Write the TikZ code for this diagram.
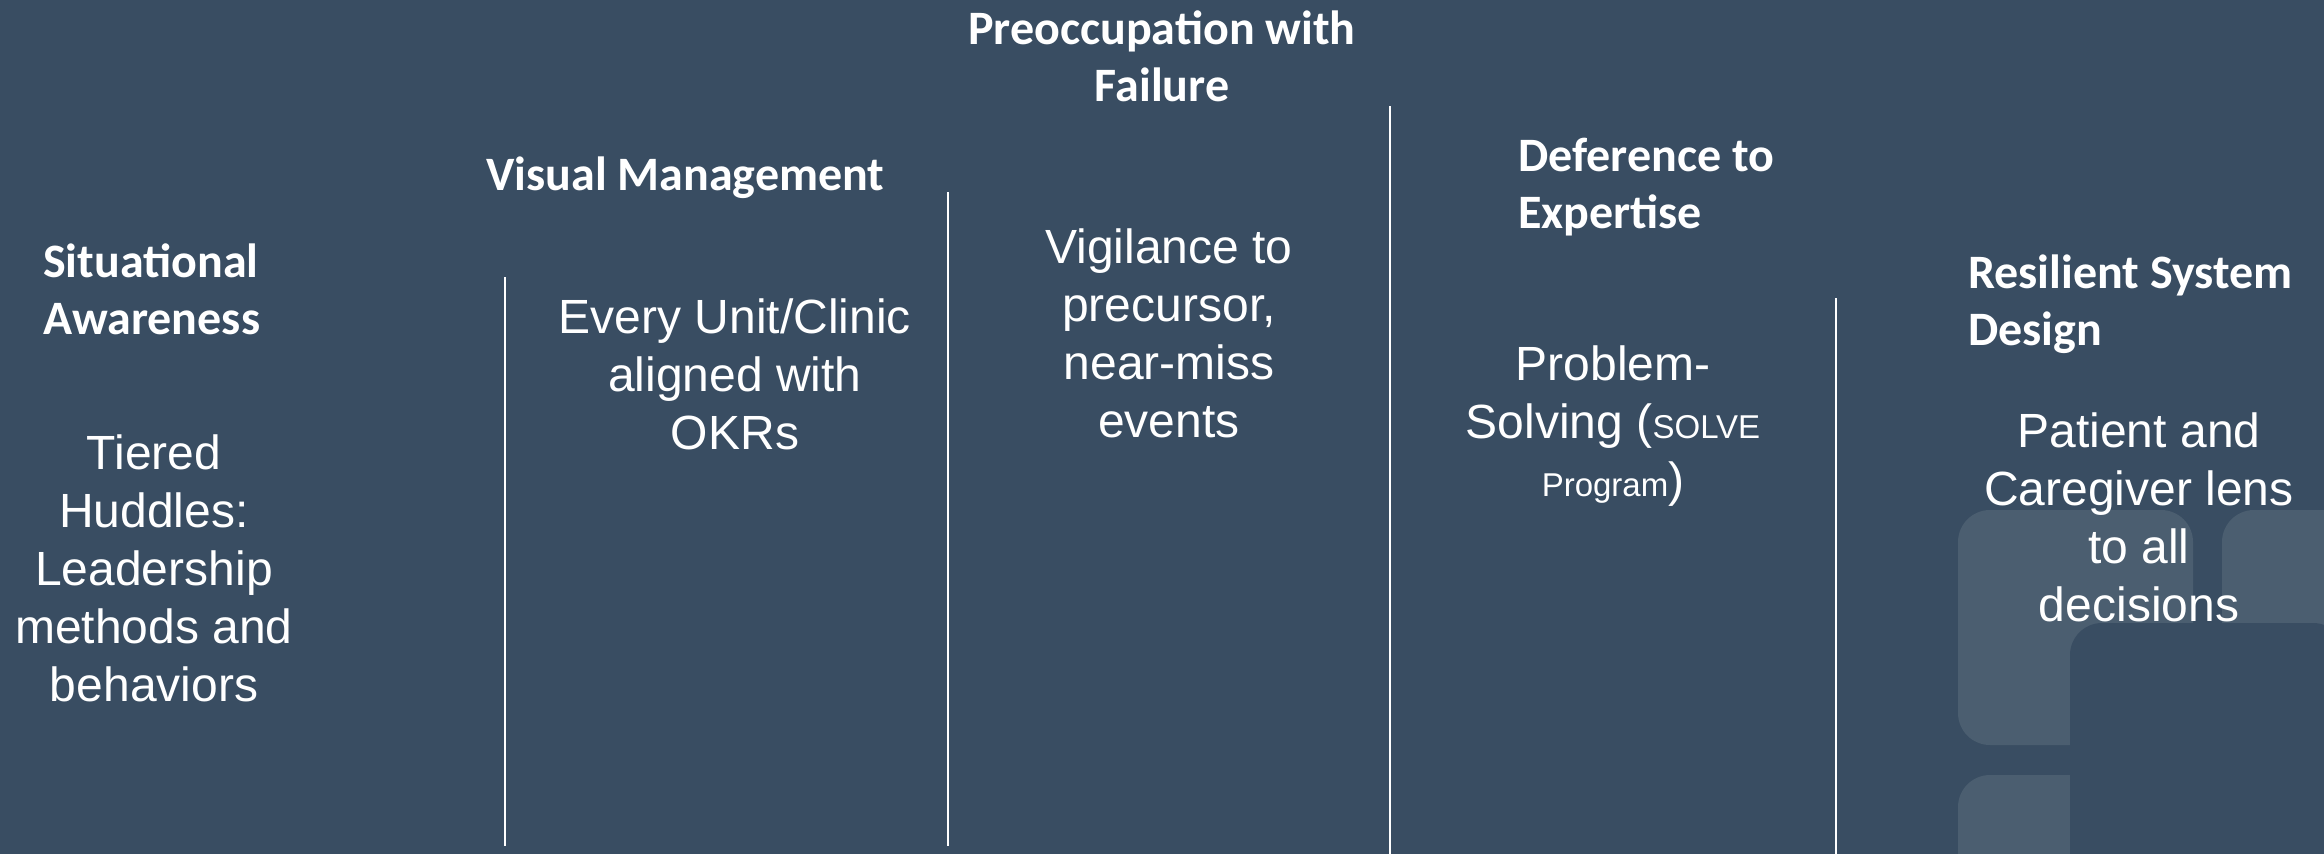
\documentclass[tikz,border=0pt]{standalone}
\usepackage{fontspec}
\setmainfont{Liberation Sans}
\newfontfamily\headfont{Carlito}
\definecolor{slate}{RGB}{57,77,98}
\definecolor{tilegray}{RGB}{75,94,112}
\newcommand{\smalltxt}[1]{{\fontsize{33}{58}\selectfont #1}}

\begin{document}
\begin{tikzpicture}[x=1pt, y=-1pt,
    head/.style={inner sep=0pt, text=white, align=left, anchor=north west,
                 font=\headfont\bfseries\fontsize{48}{57}\selectfont},
    body/.style={inner sep=0pt, text=white, align=center, anchor=north,
                 font=\fontsize{48}{58}\selectfont},
    divider/.style={draw=white, line width=1.6pt},
    tile/.style={fill=tilegray, rounded corners=32pt}]
    \useasboundingbox (0,0) rectangle (2324,854);
    \fill[slate] (0,0) rectangle (2324,854);

    %Tiles
    \begin{scope}
        \clip (0,0) rectangle (2324,854);
        \fill[tile] (1958,510) rectangle (2193,745);
        \fill[tile] (2222,510) rectangle (2457,745);
        \fill[tile] (1958,775) rectangle (2193,1010);
        \fill[tile] (2222,775) rectangle (2457,1010);
        \fill[slate, rounded corners=32pt] (2070,623) rectangle (2345,960);
    \end{scope}

    %Headings
    \node[head, anchor=north, align=center] at (1162,11) (pre) {Preoccupation with\\Failure};
    \node[head] at (486,157) (vis) {Visual Management};
    \node[head] at (43,244) (sit) {Situational\\Awareness};
    \node[head] at (1518,138) (def) {Deference to\\Expertise};
    \node[head] at (1968,255) (res) {Resilient System\\Design};

    %Texts
    \node[body] at (154,435) (tier) {Tiered\\Huddles:\\Leadership\\methods and\\behaviors};
    \node[body] at (735,299) (unit) {Every Unit/Clinic\\aligned with\\OKRs};
    \node[body] at (1169,229) (vig) {Vigilance to\\precursor,\\near-miss\\events};
    \node[body] at (1613,346) (prob) {Problem-\\Solving (\smalltxt{SOLVE}\\\smalltxt{Program})};
    \node[body] at (2139,413) (pat) {Patient and\\Caregiver lens\\to all\\decisions};

    %Lines
    \coordinate (d1t) at (505,277);
    \coordinate (d1b) at (505,846);
    \coordinate (d2t) at (948,192);
    \coordinate (d2b) at (948,846);
    \coordinate (d3t) at (1390,106);
    \coordinate (d3b) at (1390,854);
    \coordinate (d4t) at (1836,298);
    \coordinate (d4b) at (1836,854);
    \draw[divider] (d1t) -- (d1b);
    \draw[divider] (d2t) -- (d2b);
    \draw[divider] (d3t) -- (d3b);
    \draw[divider] (d4t) -- (d4b);
\end{tikzpicture}
\end{document}
